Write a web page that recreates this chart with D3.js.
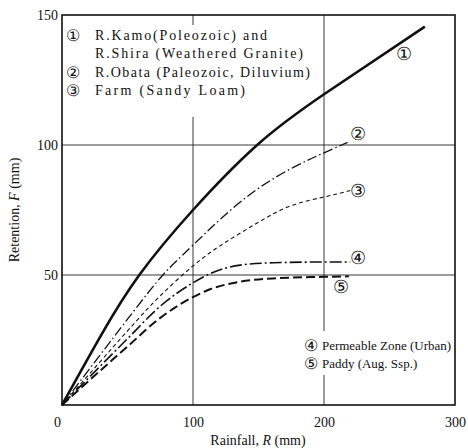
<!DOCTYPE html>
<html>
<head>
<meta charset="utf-8">
<script src="https://cdn.jsdelivr.net/npm/d3@7"></script>
<style>
  body { margin: 0; background: #fff; }
  text { font-family: "Liberation Serif", "DejaVu Serif", serif; fill: #111; }
</style>
</head>
<body>
<script>
// curve values (rainfall R, retention F in mm)
var kamoR  = [0, 30, 59, 100, 149, 200, 277];
var kamoF  = [0, 27, 50, 75, 100, 119.5, 145.5];
var obataR = [0, 50, 77, 100, 149, 200, 218];
var obataF = [0, 33, 50, 61.5, 83, 97, 101];
var farmR  = [0, 50, 75, 100, 123, 149, 174, 200, 220];
var farmF  = [0, 28.5, 42, 53.5, 62, 70, 76.5, 80, 82.5];
var permR  = [0, 50, 75, 100, 113, 136, 161, 200, 220];
var permF  = [0, 25.5, 38, 47, 50.5, 53.8, 54.7, 55, 55];
var paddyR = [0, 50, 75, 100, 113, 136, 161, 200, 219];
var paddyF = [0, 22.5, 33.5, 41.5, 44.5, 47.4, 48.7, 49.3, 49.5];

var xTicks = [0, 100, 200, 300];
var yTicks = [50, 100, 150];

var topLegend = ["R.Kamo(Poleozoic) and", "R.Shira (Weathered Granite)",
                 "R.Obata (Paleozoic, Diluvium)", "Farm (Sandy Loam)"];
var topMarks  = ["\u2460", "", "\u2461", "\u2462"];
var botLegend = ["Permeable Zone (Urban)", "Paddy (Aug. Ssp.)"];
var botMarks  = ["\u2463", "\u2464"];

var margin = {top: 15, right: 13, bottom: 43, left: 62},
    width = 468 - margin.left - margin.right,
    height = 448 - margin.top - margin.bottom;

var x = d3.scaleLinear().domain([0, 300]).range([0, width]);
var y = d3.scaleLinear().domain([0, 150]).range([height, 0]);

var svg = d3.select("body").append("svg")
    .attr("width", 468)
    .attr("height", 448)
  .append("g")
    .attr("transform", "translate(" + margin.left + "," + margin.top + ")");

// grid lines (partly hidden behind the legends)
var grid = svg.append("g").attr("stroke", "#222").attr("stroke-width", 0.9);
grid.append("line").attr("x1", x(100)).attr("x2", x(100)).attr("y1", 0).attr("y2", 10);
grid.append("line").attr("x1", x(100)).attr("x2", x(100)).attr("y1", 102).attr("y2", height);
grid.append("line").attr("x1", x(200)).attr("x2", x(200)).attr("y1", 0).attr("y2", 316);
grid.append("line").attr("x1", x(200)).attr("x2", x(200)).attr("y1", 360).attr("y2", height);
grid.append("line").attr("x1", 0).attr("x2", width).attr("y1", y(100)).attr("y2", y(100));
grid.append("line").attr("x1", 0).attr("x2", width).attr("y1", y(50)).attr("y2", y(50));

// frame
svg.append("rect")
    .attr("width", width).attr("height", height)
    .attr("fill", "none").attr("stroke", "#111").attr("stroke-width", 1.6);

// axes (labels only; the frame is drawn above)
var xAxis = svg.append("g")
    .attr("transform", "translate(0," + height + ")")
    .call(d3.axisBottom(x).tickValues(xTicks).tickSize(0).tickPadding(12).tickFormat(d3.format("d")));
xAxis.select(".domain").remove();
xAxis.selectAll("text").attr("font-size", 14).attr("fill", "#111")
    .attr("dx", function(d) { return d === 0 ? -5 : 0; });

var yAxis = svg.append("g")
    .call(d3.axisLeft(y).tickValues(yTicks).tickSize(0).tickPadding(4).tickFormat(d3.format("d")));
yAxis.select(".domain").remove();
yAxis.selectAll("text").attr("font-size", 14).attr("fill", "#111");

// axis titles
var xt = svg.append("text")
    .attr("x", 196).attr("y", height + 40)
    .attr("text-anchor", "middle").attr("font-size", 14);
xt.append("tspan").text("Rainfall, ");
xt.append("tspan").attr("font-style", "italic").text("R");
xt.append("tspan").text(" (mm)");

var yt = svg.append("text")
    .attr("transform", "translate(-43," + (height / 2) + ") rotate(-90)")
    .attr("text-anchor", "middle").attr("font-size", 14);
yt.append("tspan").text("Retention, ");
yt.append("tspan").attr("font-style", "italic").text("F");
yt.append("tspan").text(" (mm)");

// curves
var series = [
  {r: kamoR,  f: kamoF,  w: 2.6, dash: null,          curve: d3.curveNatural},
  {r: obataR, f: obataF, w: 1.3, dash: "10,3,1.5,3",  curve: d3.curveNatural},
  {r: farmR,  f: farmF,  w: 1.1, dash: "4,3",         curve: d3.curveNatural},
  {r: permR,  f: permF,  w: 1.6, dash: "12,3,2,3",    curve: d3.curveMonotoneX},
  {r: paddyR, f: paddyF, w: 2.0, dash: "9,4",         curve: d3.curveMonotoneX}
];

series.forEach(function(s) {
    var line = d3.line()
        .x(function(d) { return x(d[0]); })
        .y(function(d) { return y(d[1]); })
        .curve(s.curve);
    svg.append("path")
        .datum(d3.zip(s.r, s.f))
        .attr("fill", "none")
        .attr("stroke", "#111")
        .attr("stroke-width", s.w)
        .attr("stroke-dasharray", s.dash)
        .attr("d", line);
});

// curve labels
var curveMarks = [
  {t: "\u2460", r: 261, f: 135},
  {t: "\u2461", r: 226, f: 104.5},
  {t: "\u2462", r: 226, f: 82.5},
  {t: "\u2463", r: 226, f: 56.5},
  {t: "\u2464", r: 213, f: 45.5}
];
svg.selectAll(".cmark")
    .data(curveMarks)
    .enter().append("text")
    .attr("class", "cmark")
    .attr("x", function(d) { return x(d.r); })
    .attr("y", function(d) { return y(d.f); })
    .attr("dy", "0.35em")
    .attr("text-anchor", "middle")
    .attr("font-family", "DejaVu Sans")
    .attr("font-size", 18)
    .text(function(d) { return d.t; });

// legend, top left
var topWidths = [172, 208, 215, 150];
var tl = svg.append("g").attr("transform", "translate(0,20)");
topLegend.forEach(function(t, i) {
    tl.append("text").attr("x", 11).attr("y", i * 18.5).attr("dy", "0.35em")
        .attr("text-anchor", "middle").attr("font-family", "DejaVu Sans")
        .attr("font-size", 16).text(topMarks[i]);
    tl.append("text").attr("x", 33).attr("y", i * 18.5).attr("dy", "0.35em")
        .attr("font-size", 14)
        .attr("textLength", topWidths[i]).attr("lengthAdjust", "spacing")
        .text(t);
});

// legend, bottom right
var bl = svg.append("g").attr("transform", "translate(" + (x(190)) + ",330)");
botLegend.forEach(function(t, i) {
    bl.append("text").attr("x", 0).attr("y", i * 18.5).attr("dy", "0.35em")
        .attr("text-anchor", "middle").attr("font-family", "DejaVu Sans")
        .attr("font-size", 16).text(botMarks[i]);
    bl.append("text").attr("x", 11).attr("y", i * 18.5).attr("dy", "0.35em")
        .attr("font-size", 13)
        .text(t);
});
</script>
</body>
</html>
